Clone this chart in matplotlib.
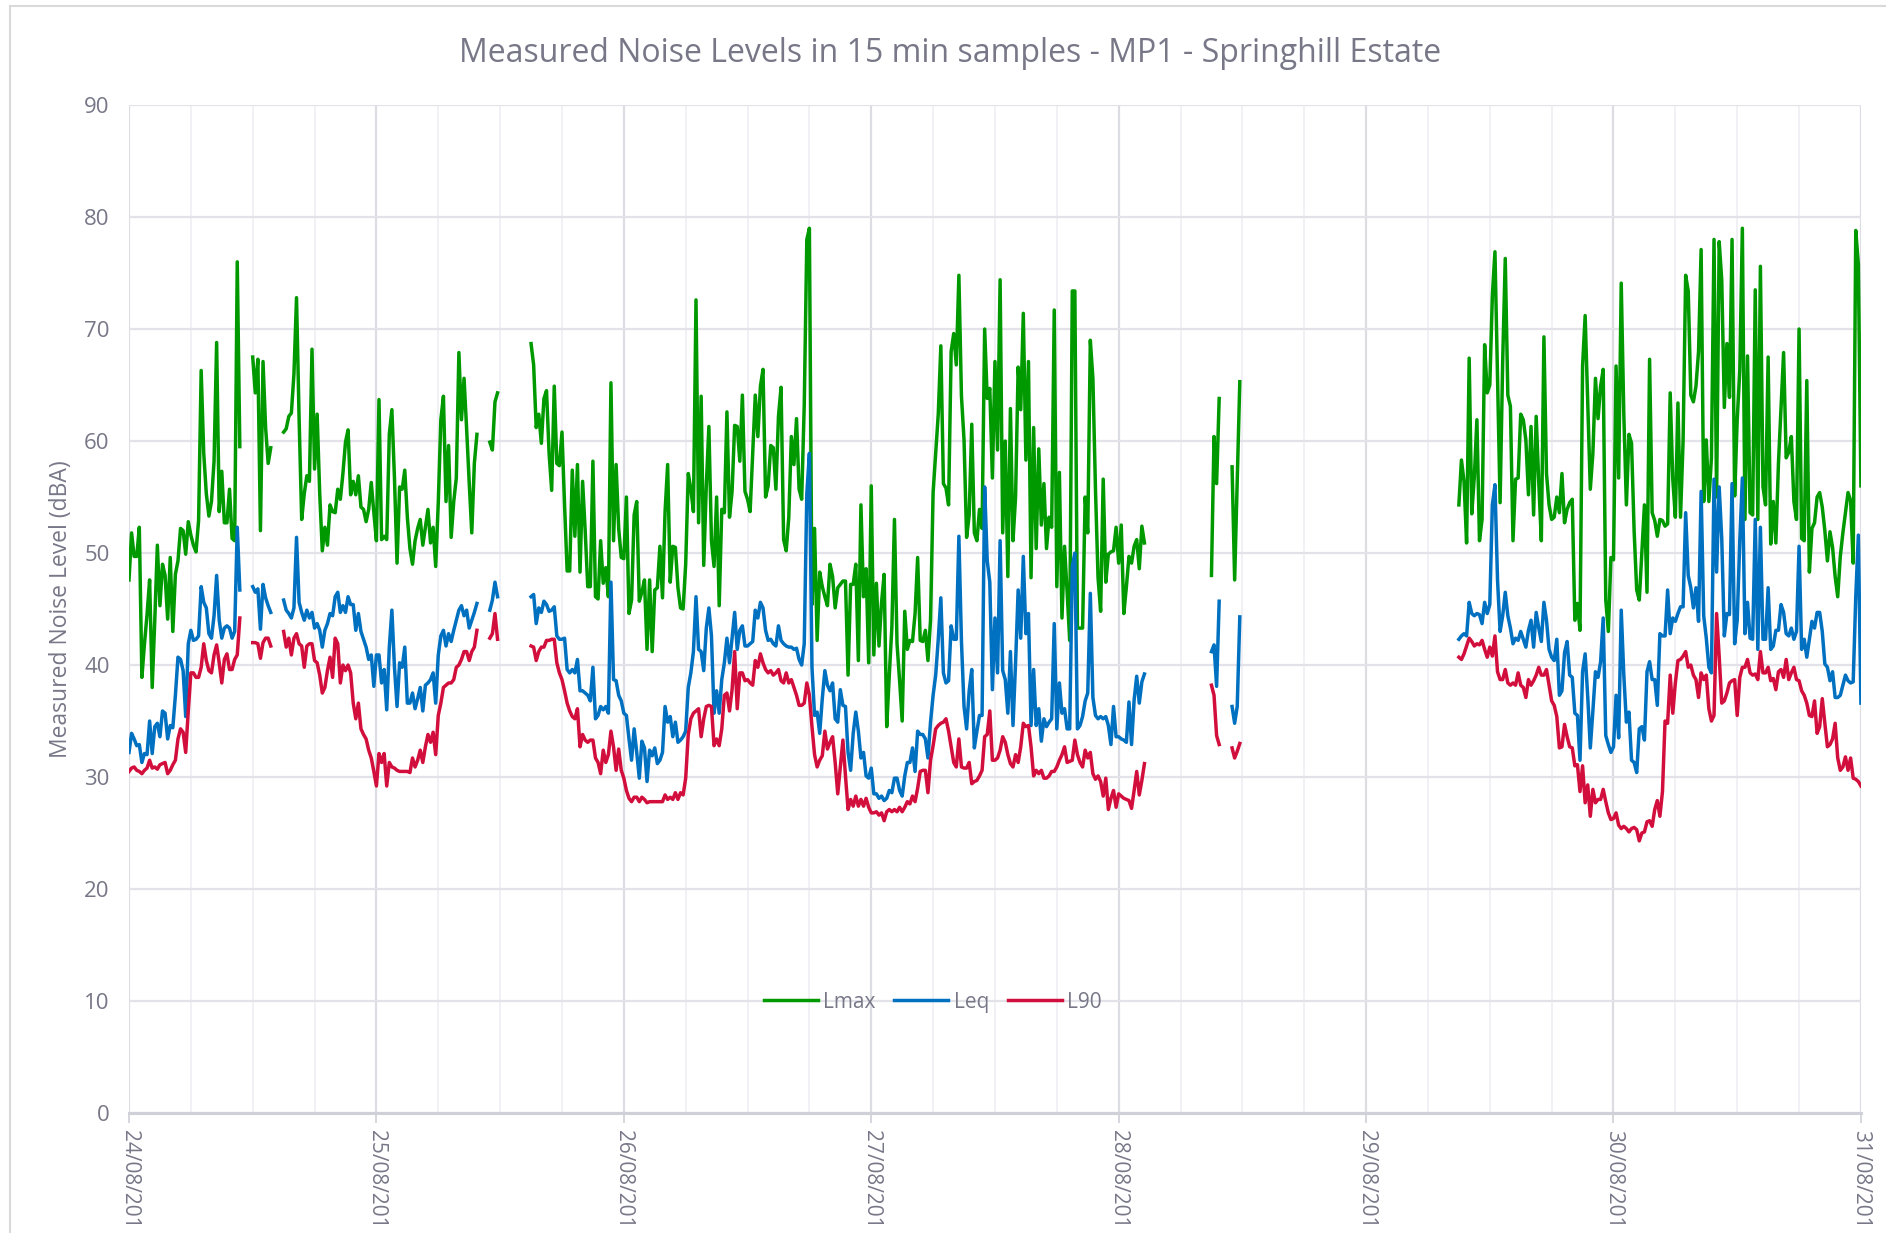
import matplotlib.pyplot as plt
import numpy as np
from matplotlib.patches import Rectangle

# 15 min samples, each logged block starts this many hours after 24/08 00:00
seg_start = [0, 12, 15, 35, 39, 105, 107, 129]

lmax = [
    [47.6, 51.8, 49.7, 49.7, 52.3, 38.9, 41.9, 44.5, 47.6, 38.0, 44.0, 50.7, 45.3, 49.0, 48.0, 44.1, 49.6, 43.0, 48.1, 49.3,
     52.2, 52.0, 49.9, 52.8, 51.6, 50.7, 50.1, 52.9, 66.3, 58.9, 55.3, 53.3, 54.6, 58.2, 68.8, 53.7, 57.3, 52.7, 52.7, 55.7,
     51.3, 51.1, 76.0, 59.5],
    [67.5, 64.3, 67.3, 52.0, 67.1, 61.2, 58.0, 59.4],
    [60.8, 61.1, 62.2, 62.5, 66.0, 72.8, 62.0, 53.0, 55.3, 56.9, 56.4, 68.2, 57.5, 62.4, 55.3, 50.2, 52.3, 50.7, 54.3, 53.7,
     53.6, 55.7, 54.8, 57.1, 59.9, 61.0, 55.2, 56.4, 55.2, 56.9, 54.1, 53.9, 52.8, 53.9, 56.3, 53.6, 51.1,
     63.7, 51.2, 51.5, 51.2, 60.6, 62.8, 56.7, 49.1, 55.9, 55.7, 57.4, 53.2, 50.4, 49.0, 51.1, 52.2, 53.0, 50.7, 52.3,
     53.9, 50.9, 52.3, 48.8, 54.5, 61.9, 64.0, 54.6, 59.6, 51.4, 54.6, 56.7, 67.9, 61.9, 65.6, 61.1, 56.3, 51.8, 58.0, 60.6],
    [59.9, 59.2, 63.5, 64.3],
    [68.7, 66.8, 61.2, 62.4, 59.8, 63.8, 64.5, 58.9, 55.6, 64.9, 58.0, 57.8, 60.8, 54.3, 48.4, 48.4, 57.4, 51.5, 57.9, 48.3,
     56.4, 52.0, 47.0, 47.0, 58.2, 46.1, 45.9, 51.1, 47.3, 48.7, 46.1, 65.2, 51.1, 57.9, 52.2, 49.6,
     49.5, 55.0, 44.6, 45.8, 53.4, 54.6, 45.7, 46.5, 47.6, 41.4, 47.6, 41.2, 46.7, 46.9, 50.6, 46.0, 53.7, 57.9, 47.4, 50.6,
     50.5, 46.9, 45.1, 45.0, 49.0, 57.1, 55.7, 53.7, 72.6, 52.7, 64.0, 48.9, 56.0, 61.3, 51.1, 48.8, 55.0, 45.3, 53.9, 53.6,
     62.6, 53.2, 55.5, 61.4, 61.3, 58.2, 64.1, 55.5, 54.8, 53.7, 58.9, 64.1, 60.4, 64.9, 66.4, 55.0, 56.0, 59.6, 59.4, 55.7,
     62.2, 64.8, 51.2, 50.2, 53.2, 60.4, 57.9, 62.0, 55.7, 54.8, 63.2, 78.0, 79.0, 45.4, 52.2, 42.2, 48.3, 47.0, 46.1, 45.3,
     49.0, 47.9, 45.1, 46.9, 47.2, 47.5, 47.5, 39.1, 47.2, 47.2, 49.0, 40.4, 54.3, 46.1, 48.6, 40.2,
     56.0, 40.9, 47.3, 41.7, 45.6, 48.1, 34.5, 39.1, 43.4, 53.0, 41.9, 38.6, 35.0, 44.8, 41.4, 42.2, 42.1, 44.6, 49.6, 42.2,
     42.1, 43.1, 40.4, 44.0, 55.4, 58.9, 62.4, 68.5, 56.2, 55.8, 54.3, 68.0, 69.6, 66.8, 74.8, 64.0, 60.1, 51.4, 53.4, 61.5,
     51.8, 51.1, 53.9, 52.2, 70.0, 63.8, 64.7, 56.7, 67.1, 59.2, 74.4, 51.8, 60.0, 47.9, 62.9, 51.1, 55.0, 66.6, 62.8, 71.4,
     58.3, 67.1, 47.8, 61.2, 50.4, 59.3, 52.5, 56.2, 50.4, 53.2, 52.3, 71.7, 47.0, 57.2, 44.2, 50.6, 46.5, 42.2, 73.4, 73.4,
     43.3, 43.3, 43.3, 55.0, 51.8, 69.0, 65.6, 55.7, 47.8, 44.8, 56.6, 47.4, 49.9, 50.1, 50.2, 52.3, 49.1, 52.5,
     44.6, 47.0, 49.7, 49.1, 50.6, 51.2, 48.6, 52.4, 50.9],
    [48.0, 60.4, 56.2, 63.8],
    [57.7, 47.6, 56.5, 65.3],
    [54.3, 58.3, 56.4, 50.9, 67.4, 53.5, 56.8, 61.9, 51.1, 53.0, 68.6, 64.3, 65.0, 73.0, 76.9, 65.6, 54.5, 67.1, 76.3, 64.1,
     63.1, 51.1, 56.6, 56.7, 62.4, 61.9, 60.1, 55.2, 61.3, 53.4, 62.2, 56.3, 51.1, 69.3, 57.1, 54.3, 53.0, 53.2, 55.0, 53.6,
     57.1, 52.7, 53.9, 54.5, 54.8, 44.0, 45.5, 43.1, 66.7, 71.2, 63.6, 55.7, 58.9, 65.6, 62.0, 64.9, 66.4, 45.8, 43.0, 49.6,
     49.4, 66.7, 56.7, 74.1, 62.4, 54.3, 60.6, 59.8, 52.0, 46.7,
     45.8, 50.0, 54.3, 46.5, 67.3, 53.6, 52.9, 51.5, 53.0, 52.9, 52.4, 52.6, 64.3, 56.6, 53.2, 63.4, 53.2, 60.0, 74.8, 73.4,
     64.1, 63.5, 64.9, 68.0, 77.1, 54.6, 60.1, 54.6, 58.5, 78.0, 55.0, 77.8, 74.4, 63.0, 68.7, 63.9, 78.0, 55.1, 61.9, 66.3,
     79.0, 53.0, 67.6, 53.6, 53.4, 73.5, 53.0, 75.6, 55.9, 54.3, 67.5, 50.8, 54.6, 50.9, 58.0, 63.0, 67.9, 58.5, 59.0, 60.4,
     54.6, 53.0, 70.0, 51.3, 51.1, 65.4, 48.3, 52.2, 52.7, 55.0, 55.4, 54.1, 52.0, 49.3, 51.9, 50.5, 47.9, 46.1, 49.7, 51.8,
     53.6, 55.4, 54.7, 49.1, 78.8, 75.8, 56.0],
]

leq = [
    [32.2, 33.9, 33.4, 32.8, 32.9, 31.3, 32.1, 32.0, 35.0, 32.1, 34.5, 34.8, 33.6, 35.9, 35.7, 33.4, 34.6, 34.4, 37.3, 40.7,
     40.5, 39.5, 35.4, 41.9, 43.1, 42.2, 42.3, 42.6, 47.0, 45.6, 45.1, 42.8, 42.4, 44.4, 48.0, 44.0, 42.4, 43.3, 43.5, 43.3,
     42.4, 43.0, 52.3, 46.7],
    [47.0, 46.5, 46.8, 43.2, 47.2, 46.0, 45.3, 44.7],
    [45.8, 44.9, 44.6, 44.2, 45.1, 51.4, 45.6, 44.7, 44.0, 44.9, 44.2, 44.7, 43.3, 43.7, 43.1, 41.6, 43.1, 43.7, 44.6, 44.4,
     46.1, 46.5, 44.7, 45.3, 44.7, 46.1, 45.4, 45.4, 43.1, 44.6, 43.0, 42.3, 41.6, 40.5, 40.9, 38.1, 40.9,
     40.9, 38.4, 39.6, 36.0, 41.6, 44.9, 39.8, 36.3, 40.2, 39.8, 41.6, 36.6, 36.6, 37.5, 36.1, 37.0, 38.0, 35.9, 38.2,
     38.4, 38.7, 39.3, 36.6, 40.9, 42.6, 43.1, 41.7, 42.8, 42.1, 43.1, 44.0, 44.9, 45.3, 44.4, 44.9, 43.3, 44.0, 44.7, 45.5],
    [44.9, 45.8, 47.4, 46.1],
    [46.1, 46.3, 43.7, 45.1, 44.7, 45.7, 45.4, 44.8, 44.9, 45.2, 42.6, 42.3, 42.3, 42.4, 39.6, 39.3, 39.6, 39.3, 40.5, 37.7,
     37.7, 37.5, 37.3, 36.8, 39.8, 35.2, 35.5, 36.3, 36.0, 36.3, 35.7, 47.4, 38.7, 38.6, 37.3, 36.8,
     35.7, 35.5, 33.4, 31.5, 34.3, 32.2, 29.9, 33.2, 32.6, 29.6, 32.4, 31.9, 32.6, 31.2, 31.5, 32.2, 36.3, 34.9, 35.4, 33.6,
     34.9, 33.1, 33.3, 33.6, 34.1, 38.0, 39.3, 41.2, 46.1, 41.4, 41.2, 39.5, 43.3, 45.1, 42.6, 35.7, 37.7, 35.7, 38.7, 40.2,
     42.4, 40.2, 42.4, 44.7, 41.4, 43.1, 43.5, 41.7, 41.7, 41.9, 42.1, 44.9, 44.2, 45.6, 45.1, 43.1, 42.2, 42.3, 41.9, 41.7,
     43.5, 42.2, 41.9, 41.7, 41.6, 41.6, 41.4, 41.5, 40.5, 40.0, 41.9, 55.3, 58.9, 39.8, 35.5, 35.8, 33.9, 37.0, 39.5, 38.2,
     37.7, 38.4, 35.2, 34.9, 37.8, 36.4, 36.3, 32.2, 30.6, 33.9, 35.8, 34.1, 31.7, 32.2, 30.1, 29.9,
     30.8, 28.5, 28.5, 28.1, 28.3, 27.9, 28.1, 28.8, 28.6, 29.9, 29.9, 28.8, 28.3, 30.1, 31.3, 31.3, 32.6, 30.5, 34.1, 33.8,
     33.8, 33.4, 31.7, 34.9, 37.3, 39.1, 42.3, 46.0, 39.3, 38.4, 38.6, 43.5, 42.3, 42.3, 51.5, 42.1, 36.3, 34.3, 37.7, 39.6,
     32.6, 34.1, 35.5, 35.5, 55.9, 49.3, 47.4, 37.8, 44.2, 39.3, 51.1, 39.5, 38.7, 35.7, 41.2, 34.6, 40.2, 46.7, 42.4, 49.7,
     42.8, 44.6, 34.6, 39.6, 34.6, 36.1, 33.2, 35.2, 34.5, 34.9, 35.2, 43.7, 34.3, 38.4, 35.7, 36.1, 34.3, 34.3, 48.8, 50.0,
     34.3, 34.6, 35.4, 36.8, 37.5, 46.4, 37.1, 35.5, 35.2, 35.4, 35.2, 35.4, 34.6, 32.9, 36.3, 33.6, 33.6, 33.4,
     33.3, 33.1, 36.7, 32.9, 36.9, 39.0, 36.6, 38.5, 39.2],
    [41.2, 41.8, 38.1, 45.7],
    [36.3, 34.8, 36.3, 44.3],
    [42.3, 42.6, 42.8, 42.6, 45.6, 44.6, 44.4, 44.6, 44.5, 43.7, 45.6, 44.6, 45.4, 54.3, 56.1, 47.6, 43.0, 44.4, 46.5, 44.4,
     43.3, 41.9, 42.4, 42.2, 43.0, 42.3, 41.6, 43.1, 44.0, 41.6, 44.7, 43.3, 42.1, 45.6, 44.0, 41.4, 40.7, 40.4, 42.3, 37.3,
     37.7, 41.1, 42.1, 39.1, 38.9, 35.7, 35.5, 31.5, 39.4, 41.0, 37.2, 32.6, 35.9, 39.4, 38.9, 40.3, 44.2, 33.7, 32.9, 32.2,
     32.7, 37.3, 33.5, 44.9, 39.1, 34.9, 35.8, 31.5, 31.3, 30.4,
     34.3, 34.5, 33.3, 39.4, 40.3, 38.7, 38.7, 36.4, 42.8, 42.6, 42.6, 46.7, 42.8, 44.2, 43.9, 44.6, 45.2, 45.2, 53.6, 48.0,
     46.9, 45.1, 46.9, 43.9, 55.5, 44.4, 42.4, 39.8, 39.3, 56.6, 48.3, 55.9, 51.3, 42.6, 44.6, 44.5, 56.2, 41.9, 44.0, 51.1,
     56.7, 42.8, 45.6, 42.4, 42.3, 53.0, 41.4, 52.3, 42.3, 42.3, 46.9, 41.4, 41.7, 43.1, 43.1, 45.4, 44.7, 42.8, 42.6, 43.3,
     42.3, 43.0, 50.6, 41.4, 42.3, 40.7, 42.3, 43.9, 43.3, 44.7, 44.7, 43.0, 40.1, 39.8, 38.6, 39.4, 37.1, 37.1, 37.3, 38.2,
     39.1, 38.6, 38.4, 38.5, 46.1, 51.6, 36.6],
]

l90 = [
    [30.5, 30.8, 30.9, 30.6, 30.5, 30.3, 30.6, 30.8, 31.5, 30.8, 30.9, 30.7, 31.1, 31.2, 31.3, 30.3, 30.6, 31.1, 31.5, 33.4,
     34.3, 34.0, 32.2, 35.9, 39.3, 39.3, 38.9, 38.9, 39.8, 41.9, 40.4, 39.5, 39.3, 40.9, 41.8, 40.2, 38.4, 40.5, 41.0, 39.6,
     39.6, 40.5, 40.9, 44.2],
    [42.0, 42.0, 41.9, 40.6, 42.0, 42.4, 42.4, 41.7],
    [43.0, 41.6, 42.4, 40.9, 42.4, 42.8, 41.9, 41.7, 39.8, 41.7, 41.9, 41.9, 40.4, 40.2, 39.1, 37.5, 38.0, 39.5, 40.7, 38.9,
     42.4, 41.9, 38.4, 40.0, 39.5, 40.0, 39.3, 36.6, 35.2, 36.6, 34.3, 33.8, 33.4, 32.4, 31.7, 30.5, 29.2,
     32.1, 31.3, 32.1, 29.2, 31.3, 30.9, 30.8, 30.6, 30.5, 30.5, 30.5, 30.5, 30.4, 31.7, 30.9, 31.5, 32.4, 31.3, 32.7,
     33.8, 33.1, 34.0, 32.0, 35.5, 36.6, 38.0, 38.2, 38.4, 38.4, 38.7, 39.8, 40.0, 40.5, 41.2, 41.2, 40.4, 41.2, 41.6, 43.1],
    [42.4, 42.8, 44.6, 42.3],
    [41.7, 41.6, 40.4, 41.2, 41.6, 41.6, 42.2, 42.2, 42.3, 42.3, 40.2, 39.3, 38.7, 37.7, 36.6, 35.9, 35.4, 35.2, 36.1, 32.7,
     33.8, 33.3, 33.1, 33.3, 33.3, 31.7, 31.3, 30.3, 32.4, 31.3, 32.0, 34.1, 32.7, 30.6, 32.5, 30.6,
     29.9, 28.8, 28.1, 27.8, 28.2, 28.2, 27.8, 28.2, 28.0, 27.7, 27.8, 27.8, 27.8, 27.8, 27.8, 27.8, 28.4, 28.0, 28.2, 28.0,
     28.6, 28.0, 28.6, 28.4, 29.9, 33.8, 35.2, 35.7, 35.9, 36.1, 33.6, 35.2, 36.3, 36.4, 36.3, 32.8, 33.4, 32.8, 34.3, 37.3,
     37.5, 35.9, 37.8, 41.2, 36.1, 39.3, 39.3, 38.6, 38.7, 38.4, 38.2, 40.4, 39.8, 41.0, 40.2, 39.6, 39.3, 39.5, 39.1, 39.3,
     39.6, 38.6, 38.4, 39.3, 38.4, 38.7, 38.0, 37.3, 36.4, 36.4, 36.6, 38.4, 37.3, 34.5, 32.0, 30.9, 31.5, 31.9, 34.1, 32.5,
     33.1, 33.6, 31.3, 28.5, 30.9, 33.3, 30.1, 27.1, 28.0, 27.4, 28.3, 27.4, 28.0, 27.4, 28.1, 27.3,
     26.8, 26.8, 26.9, 26.6, 26.8, 26.1, 26.9, 27.1, 26.9, 27.1, 26.9, 27.3, 26.9, 27.3, 27.8, 27.6, 28.3, 27.8, 29.0, 30.5,
     30.6, 30.6, 28.6, 31.5, 32.8, 34.3, 34.6, 34.8, 34.9, 35.2, 34.1, 32.7, 31.3, 30.9, 33.4, 30.9, 30.8, 30.8, 31.3, 29.4,
     29.6, 29.7, 30.1, 30.6, 33.6, 33.8, 35.9, 31.5, 31.5, 31.7, 32.4, 33.6, 33.1, 32.0, 31.2, 30.9, 32.0, 31.3, 32.7, 34.8,
     34.5, 34.6, 32.7, 30.1, 30.6, 30.3, 30.6, 29.9, 29.9, 30.1, 30.5, 30.5, 30.9, 31.5, 32.0, 32.7, 31.3, 31.4, 31.5, 33.3,
     32.0, 31.3, 30.9, 32.4, 31.7, 32.2, 30.3, 29.8, 30.1, 29.6, 28.3, 29.9, 27.1, 28.1, 28.8, 27.3, 28.5, 28.3,
     28.1, 28.0, 27.9, 27.2, 28.8, 30.5, 28.4, 29.7, 31.2],
    [38.2, 37.3, 33.7, 32.9],
    [32.6, 31.7, 32.3, 33.0],
    [40.7, 40.5, 41.0, 41.7, 42.4, 42.1, 41.7, 41.9, 41.8, 42.2, 41.4, 40.7, 41.6, 40.8, 42.6, 39.4, 38.7, 38.7, 39.6, 38.4,
     38.2, 38.4, 38.2, 39.3, 38.2, 38.0, 37.1, 38.7, 38.2, 38.6, 39.1, 39.8, 39.1, 39.1, 39.6, 38.2, 36.8, 36.4, 35.4, 32.6,
     32.7, 34.7, 33.6, 32.7, 32.6, 31.0, 31.1,
     28.7, 31.0, 27.7, 29.3, 26.5, 28.9, 27.7, 28.0, 28.0, 28.9, 27.8, 26.8, 26.2, 26.3, 26.8, 25.7, 25.4, 25.6, 25.4, 25.1,
     25.4, 25.5, 25.3, 24.3, 25.0, 25.1, 26.0, 26.1, 25.6, 27.1, 27.9, 26.5, 28.7,
     35.0, 34.8, 39.1, 35.7, 38.4, 40.4, 40.5, 40.8, 41.2, 39.8, 40.0, 39.1, 38.7, 37.1, 39.3, 38.7, 39.1, 36.1, 35.0, 35.5,
     44.6, 40.8, 36.6, 36.8, 37.5, 38.4, 38.6, 38.7, 35.5, 38.9, 39.8, 39.8, 40.5, 39.3, 39.1, 39.2, 38.7, 41.2, 39.3, 39.3,
     39.8, 38.6, 38.8, 37.8, 39.4, 39.6, 38.9, 40.5, 38.7, 39.3, 39.8, 38.7, 38.6, 37.7, 37.3, 36.6, 35.5, 35.4, 36.8, 33.9,
     34.5, 37.0, 34.8, 32.7, 32.9, 33.4, 34.8, 31.7, 30.6, 30.9, 31.8, 30.6, 31.7, 29.9, 29.8, 29.6, 29.2],
]

day_labels = ['24/08/201', '25/08/201', '26/08/201', '27/08/201', '28/08/201', '29/08/201', '30/08/201', '31/08/201']

series_names = ['Lmax', 'Leq', 'L90']
series_colors = ['#009a00', '#0070c0', '#d20f3c']

text_col = '#777788'
plt.rcParams['font.family'] = ['Open Sans', 'DejaVu Sans']


def join_segments(segs):
    # one x/y pair per series, NaN between logged blocks so the line breaks
    xs, ys = [], []
    for start, vals in zip(seg_start, segs):
        t = (start + 0.25 * np.arange(len(vals))) / 24.0
        xs.extend(t.tolist() + [np.nan])
        ys.extend(list(vals) + [np.nan])
    return np.array(xs), np.array(ys)


fig = plt.figure(figsize=(18.86, 12.33), dpi=100)
ax = fig.add_axes([0.0684, 0.0973, 0.9183, 0.8175])

for segs, name, col in zip([lmax, leq, l90], series_names, series_colors):
    x, y = join_segments(segs)
    ax.plot(x, y, color=col, lw=2.5, label=name)

ax.set_xlim(0, 7)
ax.set_ylim(0, 90)
ax.set_yticks(np.arange(0, 91, 10))
ax.set_xticks(np.arange(0, 8))
ax.set_xticks(np.arange(0, 7.01, 0.25), minor=True)
ax.set_xticklabels(day_labels, rotation=270, ha='center', va='top')

ax.grid(axis='y', color='#e2e2e8', lw=1.6)
ax.grid(axis='x', which='major', color='#dcdce3', lw=1.6)
ax.grid(axis='x', which='minor', color='#f0f0f4', lw=1.3)
ax.set_axisbelow(True)

for s in ['left', 'right', 'top']:
    ax.spines[s].set_visible(False)
ax.spines['bottom'].set_color('#d0d0d8')
ax.spines['bottom'].set_linewidth(2.2)

ax.tick_params(axis='y', length=0, pad=14, labelsize=16, labelcolor=text_col)
ax.tick_params(axis='x', which='major', length=7, width=1.2, color='#d0d0d8', pad=5,
               labelsize=15, labelcolor=text_col)
ax.tick_params(axis='x', which='minor', length=0)

ax.set_ylabel('Measured Noise Level (dBA)', fontsize=16.5, color=text_col, labelpad=8)
fig.text(0.504, 0.957, 'Measured Noise Levels in 15 min samples - MP1 - Springhill Estate',
         ha='center', va='center', fontsize=23, color=text_col)

leg = ax.legend(loc='center', bbox_to_anchor=(0.464, 0.11), ncol=3, frameon=False,
                fontsize=15, handlelength=2.6, handletextpad=0.25, columnspacing=0.9)
for t in leg.get_texts():
    t.set_color(text_col)

# light frame round the chart area
fig.patches.append(Rectangle((0.0053, -0.01), 1.0, 1.005, transform=fig.transFigure,
                             fill=False, edgecolor='#d9d9d9', lw=1.5))

fig.savefig('out.png', dpi=100)
